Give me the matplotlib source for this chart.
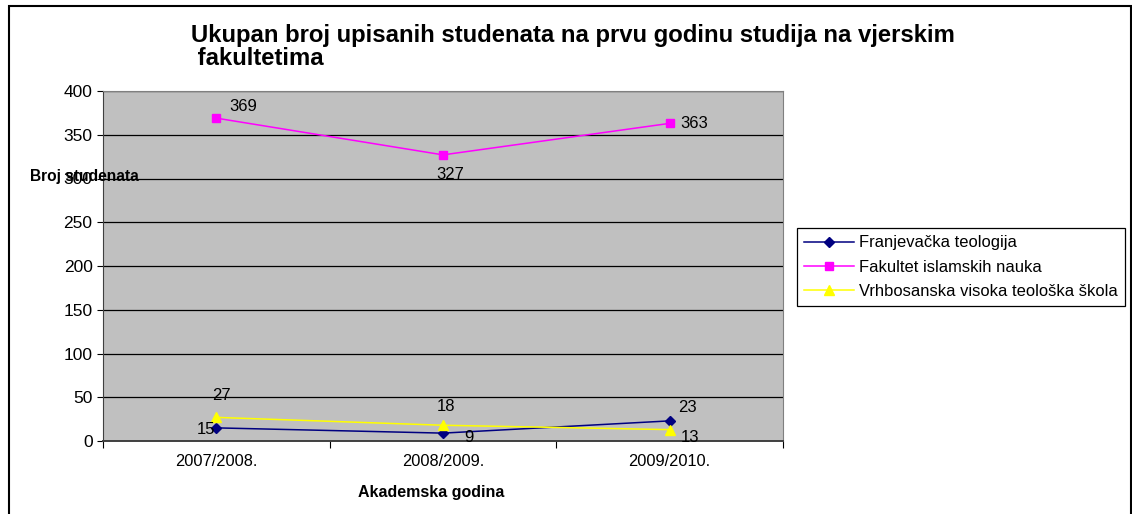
import matplotlib.pyplot as plt
from matplotlib.patches import Rectangle

plt.rcParams['font.family'] = ['Liberation Sans', 'DejaVu Sans']

years = ['2007/2008.', '2008/2009.', '2009/2010.']
franjevacka = [15, 9, 23]
fin = [369, 327, 363]
vrhbosanska = [27, 18, 13]

W, H = 1132, 514
fig = plt.figure(figsize=(W / 100, H / 100), dpi=100)

# outer frame of the chart
fig.patches.append(Rectangle((9 / W, -0.05), 1122 / W, 1.05 - 6 / H, transform=fig.transFigure,
                             fill=False, edgecolor='black', linewidth=1.5))

ax = fig.add_axes([103 / W, (H - 441) / H, 680 / W, 350 / H])
ax.set_facecolor('#C0C0C0')

x = list(range(len(years)))
ax.plot(x, franjevacka, color='#000080', marker='D', markersize=5, linewidth=1.1,
        label='Franjevačka teologija')
ax.plot(x, fin, color='#FF00FF', marker='s', markersize=5.5, linewidth=1.1,
        label='Fakultet islamskih nauka')
ax.plot(x, vrhbosanska, color='#FFFF00', marker='^', markersize=7, linewidth=1.1,
        label='Vrhbosanska visoka teološka škola')

# data labels (offset in points)
fs = 12
lab = dict(fontsize=fs, textcoords='offset points')
ax.annotate(str(fin[0]), (0, fin[0]), xytext=(9, 3), ha='left', va='bottom', **lab)
ax.annotate(str(fin[1]), (1, fin[1]), xytext=(5, -9), ha='center', va='top', **lab)
ax.annotate(str(fin[2]), (2, fin[2]), xytext=(8, 0), ha='left', va='center', **lab)
ax.annotate(str(franjevacka[0]), (0, franjevacka[0]), xytext=(-1, -1), ha='right', va='center', **lab)
ax.annotate(str(franjevacka[1]), (1, franjevacka[1]), xytext=(15, 2), ha='left', va='top', **lab)
ax.annotate(str(franjevacka[2]), (2, franjevacka[2]), xytext=(6, 4), ha='left', va='bottom', **lab)
ax.annotate(str(vrhbosanska[0]), (0, vrhbosanska[0]), xytext=(4, 10), ha='center', va='bottom', **lab)
ax.annotate(str(vrhbosanska[1]), (1, vrhbosanska[1]), xytext=(2, 8), ha='center', va='bottom', **lab)
ax.annotate(str(vrhbosanska[2]), (2, vrhbosanska[2]), xytext=(8, 0), ha='left', va='top', **lab)

ax.set_xlim(-0.5, len(years) - 0.5)
ax.set_ylim(0, 400)
ax.set_yticks(range(0, 401, 50))
ax.yaxis.grid(True, color='black', linewidth=0.9)
ax.set_axisbelow(True)

ax.set_xticks([i - 0.5 for i in range(len(years) + 1)])
ax.set_xticklabels([])
ax.set_xticks(x, minor=True)
ax.set_xticklabels(years, minor=True, fontsize=11.8)
ax.tick_params(axis='x', which='major', length=5, direction='out')
ax.tick_params(axis='x', which='minor', length=0, pad=9)
ax.tick_params(axis='y', labelsize=12.5, length=4, direction='out')

for side in ['top', 'right']:
    ax.spines[side].set_color('#808080')
ax.spines['left'].set_color('#404040')
ax.spines['bottom'].set_color('#404040')
ax.spines['bottom'].set_linewidth(1.4)

fig.text(191 / W, 1 - 24 / H,
         'Ukupan broj upisanih studenata na prvu godinu studija na vjerskim\n fakultetima',
         fontsize=17.2, fontweight='bold', ha='left', va='top', linespacing=0.98)
fig.text(30 / W, 1 - 177 / H, 'Broj studenata', fontsize=11.2, fontweight='bold', ha='left', va='center')
fig.text(431 / W, 1 - 493 / H, 'Akademska godina', fontsize=11.5, fontweight='bold', ha='center', va='center')

leg = ax.legend(loc='upper left', bbox_to_anchor=(797 / W, 1 - 228 / H), bbox_transform=fig.transFigure,
                borderaxespad=0, fancybox=False, edgecolor='black', framealpha=1, fontsize=11.9,
                handlelength=3.0, handletextpad=0.3, labelspacing=0.55, borderpad=0.45)
leg.get_frame().set_linewidth(0.9)

fig.savefig('out.png', dpi=100)
